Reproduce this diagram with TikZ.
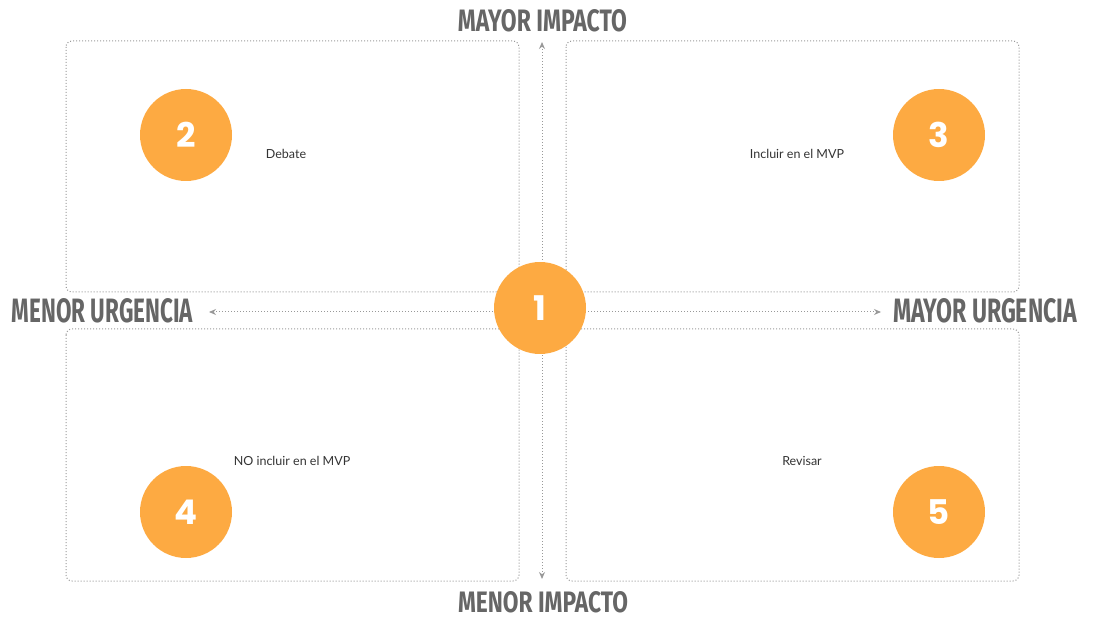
\documentclass[tikz,border=0pt]{standalone}
\usepackage{fontspec}
\setmainfont{Poppins}
\newfontfamily\headfont{Fira Sans}
\newfontfamily\smallfont{Lato}
\usetikzlibrary{arrows.meta}
\definecolor{orng}{HTML}{FDAA42}
\definecolor{lgray}{HTML}{999999}
\definecolor{hgray}{HTML}{666666}
\definecolor{tgray}{HTML}{333333}
\begin{document}
\begin{tikzpicture}[x=1pt,y=-1pt,
  quad/.style={draw=lgray,line width=1pt,dash pattern=on 1pt off 2pt,rounded corners=6pt},
  axis/.style={draw=lgray,line width=1pt,dash pattern=on 1pt off 2pt,{Stealth[length=7pt,width=6pt]}-{Stealth[length=7pt,width=6pt]}},
  num/.style={circle,fill=orng,minimum size=92pt,inner sep=0pt,text=white,font=\fontsize{34}{34}\selectfont\bfseries},
  lbl/.style={text=tgray,font=\smallfont\fontsize{12.5}{14}\selectfont},
  head/.style={text=hgray,inner sep=0pt}
]
\useasboundingbox (0,0) rectangle (1095,617);
\draw[quad] (66,41) rectangle (519,292);
\draw[quad] (566,41) rectangle (1019,292);
\draw[quad] (66,329) rectangle (519,581);
\draw[quad] (566,329) rectangle (1019,581);
\coordinate (vt) at (542,42);
\coordinate (vb) at (542,579);
\coordinate (hl) at (209,312);
\coordinate (hr) at (881,312);
\draw[axis] (vt) -- (vb);
\draw[axis] (hl) -- (hr);
\node[num] (n1) at (540,308) {1};
\node[num] (n2) at (186,135) {2};
\node[num] (n3) at (939,135) {3};
\node[num] (n4) at (186,512) {4};
\node[num] (n5) at (939,512) {5};
\node[lbl] (t2) at (286,154) {Debate};
\node[lbl] (t3) at (797,154) {Incluir en el MVP};
\node[lbl] (t4) at (292,461) {NO incluir en el MVP};
\node[lbl] (t5) at (802,461) {Revisar};
\node[head] (mi) at (542.5,21) {\resizebox{169pt}{22pt}{\headfont\bfseries MAYOR IMPACTO}};
\node[head] (ni) at (543,602) {\resizebox{170pt}{21pt}{\headfont\bfseries MENOR IMPACTO}};
\node[head] (nu) at (102.5,311) {\resizebox{181pt}{24pt}{\headfont\bfseries MENOR URGENCIA}};
\node[head] (mu) at (985,311) {\resizebox{184pt}{24pt}{\headfont\bfseries MAYOR URGENCIA}};
\end{tikzpicture}
\end{document}
